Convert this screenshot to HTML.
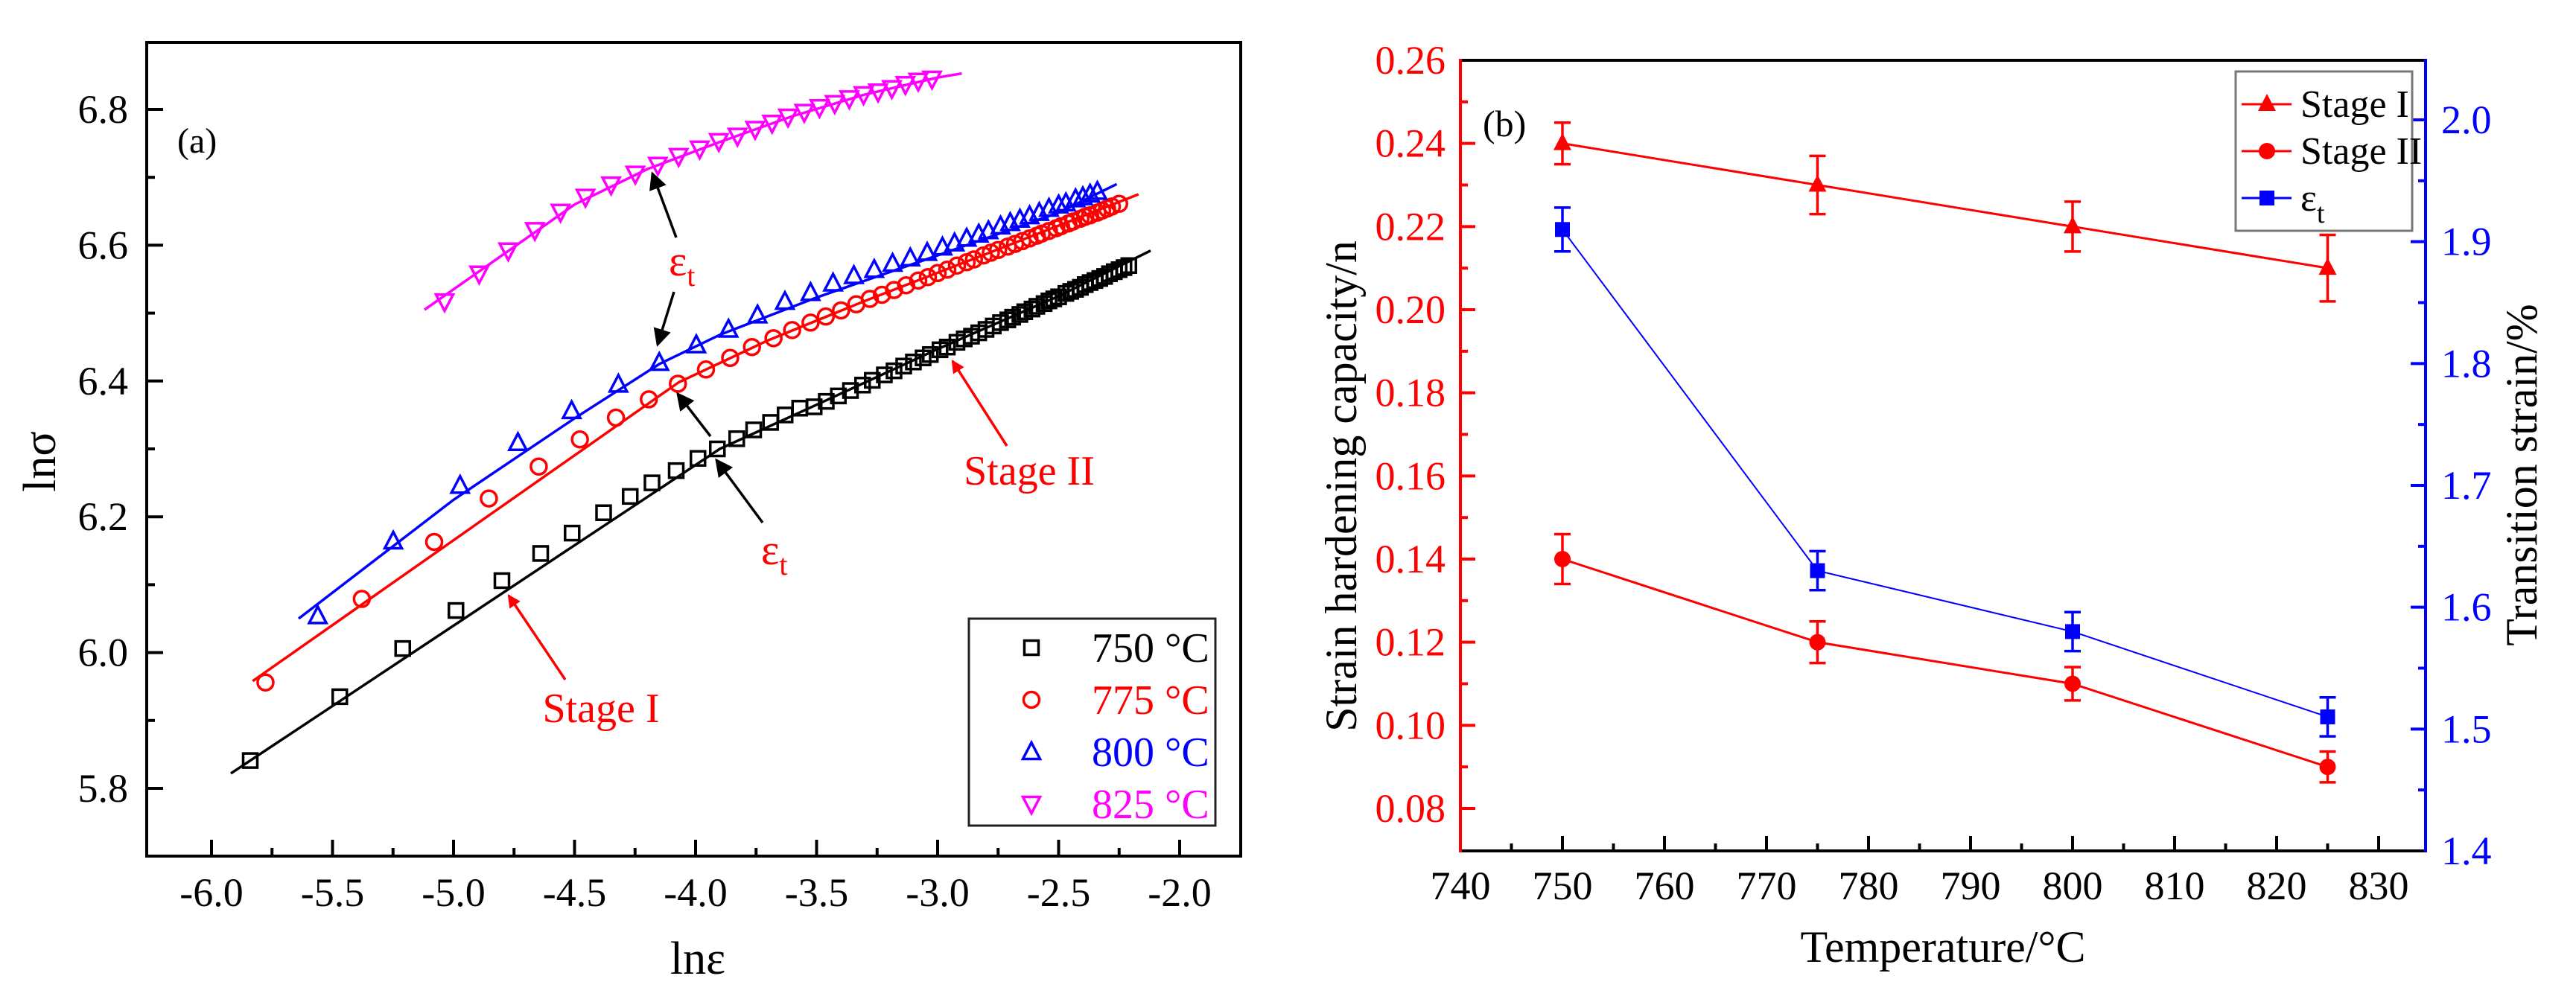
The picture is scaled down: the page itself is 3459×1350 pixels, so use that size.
<!DOCTYPE html>
<html><head><meta charset="utf-8"><style>
html,body{margin:0;padding:0;background:#fff;}
svg{display:block;}
svg text{font-family:"Liberation Serif","DejaVu Serif",serif !important;}
</style></head><body>
<svg id="fig" width="3459" height="1350" viewBox="0 0 3459 1350" font-family="Liberation Serif, serif"></svg>
<script>
// ---------- Panel (a) data ----------
const aXTicks = [-6.0,-5.5,-5.0,-4.5,-4.0,-3.5,-3.0,-2.5,-2.0];
const aXTickLabels = ["-6.0","-5.5","-5.0","-4.5","-4.0","-3.5","-3.0","-2.5","-2.0"];
const aYTicks = [5.8,6.0,6.2,6.4,6.6,6.8];
const aYTickLabels = ["5.8","6.0","6.2","6.4","6.6","6.8"];
const s750x = [-5.84,-5.47,-5.21,-4.99,-4.80,-4.64,-4.51,-4.38,-4.27,-4.18,-4.08,-3.99,-3.91,-3.83,-3.76,-3.69,-3.63,-3.57,-3.51,-3.46,-3.41,-3.36,-3.31,-3.27,-3.22,-3.18,-3.14,-3.10,-3.06,-3.03,-2.99,-2.96,-2.92,-2.89,-2.86,-2.83,-2.80,-2.77,-2.74,-2.71,-2.69,-2.66,-2.64,-2.61,-2.59,-2.56,-2.54,-2.52,-2.50,-2.47,-2.45,-2.43,-2.41,-2.39,-2.37,-2.35,-2.33,-2.31,-2.29,-2.27,-2.25,-2.23,-2.21];
const s750y = [5.841,5.935,6.006,6.062,6.106,6.146,6.176,6.206,6.230,6.250,6.268,6.286,6.300,6.315,6.328,6.339,6.350,6.360,6.362,6.370,6.378,6.386,6.394,6.401,6.409,6.415,6.422,6.428,6.434,6.439,6.446,6.450,6.457,6.462,6.466,6.471,6.476,6.481,6.486,6.490,6.494,6.498,6.502,6.506,6.510,6.514,6.518,6.521,6.524,6.529,6.532,6.535,6.538,6.542,6.545,6.548,6.551,6.554,6.558,6.561,6.564,6.567,6.570];
const s775x = [-5.777,-5.379,-5.080,-4.854,-4.648,-4.478,-4.329,-4.193,-4.073,-3.957,-3.857,-3.767,-3.678,-3.601,-3.525,-3.462,-3.399,-3.336,-3.28,-3.23,-3.18,-3.13,-3.08,-3.04,-3.00,-2.96,-2.92,-2.88,-2.85,-2.81,-2.78,-2.75,-2.71,-2.68,-2.65,-2.62,-2.59,-2.57,-2.54,-2.51,-2.49,-2.46,-2.44,-2.41,-2.39,-2.37,-2.34,-2.32,-2.30,-2.28,-2.25];
const s775y = [5.956,6.079,6.163,6.227,6.274,6.314,6.346,6.373,6.396,6.417,6.434,6.450,6.463,6.475,6.486,6.495,6.504,6.513,6.521,6.527,6.534,6.541,6.548,6.553,6.559,6.564,6.570,6.575,6.579,6.585,6.589,6.593,6.598,6.602,6.606,6.610,6.614,6.617,6.621,6.625,6.628,6.632,6.635,6.639,6.642,6.644,6.648,6.651,6.654,6.657,6.661];
const s800x = [-5.561,-5.249,-4.973,-4.734,-4.512,-4.319,-4.150,-3.997,-3.864,-3.744,-3.631,-3.525,-3.432,-3.346,-3.262,-3.186,-3.113,-3.043,-2.98,-2.93,-2.88,-2.83,-2.79,-2.74,-2.70,-2.66,-2.62,-2.58,-2.54,-2.50,-2.47,-2.43,-2.40,-2.37,-2.34];
const s800y = [6.054,6.164,6.246,6.309,6.356,6.395,6.427,6.453,6.476,6.497,6.517,6.530,6.544,6.555,6.564,6.573,6.581,6.589,6.597,6.603,6.610,6.616,6.621,6.628,6.633,6.638,6.643,6.648,6.654,6.659,6.662,6.668,6.671,6.675,6.679];
const s825x = [-5.037,-4.894,-4.774,-4.664,-4.558,-4.455,-4.349,-4.249,-4.156,-4.070,-3.983,-3.904,-3.827,-3.754,-3.684,-3.618,-3.551,-3.488,-3.425,-3.365,-3.306,-3.246,-3.189,-3.133,-3.080,-3.023];
const s825y = [6.517,6.558,6.592,6.622,6.649,6.671,6.689,6.705,6.718,6.731,6.742,6.753,6.761,6.771,6.780,6.789,6.796,6.803,6.809,6.816,6.822,6.826,6.831,6.837,6.842,6.845];
const fit750x = [-5.92,-3.9,-3.5,-3.0,-2.5,-2.12];
const fit750y = [5.822,6.30,6.365,6.447,6.525,6.592];
const fit775x = [-5.83,-4.07,-3.7,-3.3,-2.8,-2.17];
const fit775y = [5.958,6.398,6.46,6.518,6.587,6.675];
const fit800x = [-5.64,-5.0,-4.5,-4.15,-3.9,-3.5,-3.0,-2.5,-2.26];
const fit800y = [6.05,6.225,6.345,6.425,6.468,6.523,6.585,6.648,6.690];
const fit825x = [-5.12,-4.8,-4.5,-4.2,-3.9,-3.6,-3.3,-3.0,-2.9];
const fit825y = [6.505,6.585,6.66,6.712,6.752,6.79,6.822,6.847,6.853];

// ---------- Panel (b) data ----------
const bXTicks = [740,750,760,770,780,790,800,810,820,830];
const bXTickLabels = ["740","750","760","770","780","790","800","810","820","830"];
const bYLTicks = [0.08,0.10,0.12,0.14,0.16,0.18,0.20,0.22,0.24,0.26];
const bYLTickLabels = ["0.08","0.10","0.12","0.14","0.16","0.18","0.20","0.22","0.24","0.26"];
const bYRTicks = [1.4,1.5,1.6,1.7,1.8,1.9,2.0];
const bYRTickLabels = ["1.4","1.5","1.6","1.7","1.8","1.9","2.0"];
const temps = [750,775,800,825];
const stage1 = [0.240,0.230,0.220,0.210];
const stage1Err = [0.005,0.007,0.006,0.008];
const stage2 = [0.140,0.120,0.110,0.090];
const stage2Err = [0.006,0.005,0.004,0.0037];
const epsT = [1.91,1.63,1.58,1.51];
const epsTErr = [0.018,0.016,0.016,0.016];

const NS = "http://www.w3.org/2000/svg";
const svg = document.getElementById('fig');
const FONT = "'Liberation Serif', 'DejaVu Serif', serif";
function mk(tag, attrs, parent){
  const e = document.createElementNS(NS, tag);
  for (const k in attrs) e.setAttribute(k, attrs[k]);
  (parent||svg).appendChild(e);
  return e;
}
function txt(s, attrs, parent){ attrs['font-family'] = FONT; const t = mk('text', attrs, parent); t.textContent = s; return t; }
function lin(d0,d1,r0,r1){ return v => r0 + (v-d0)/(d1-d0)*(r1-r0); }

// ===== Panel (a) =====
const A = {L:197,R:1666,T:57,B:1150};
const ax = lin(-6.0,-2.0,284,1584);
const ay = lin(5.8,6.8,1059,147);
const gA = mk('g',{});



aXTicks.forEach((v,i)=>{
  const x = ax(v);
  const t = mk('line',{x1:x,y1:A.B,x2:x,y2:A.B-22,stroke:'#000','stroke-width':4},gA);
  
  
  if(i<aXTicks.length-1){
    const xm = ax(v+0.25);
    const m = mk('line',{x1:xm,y1:A.B,x2:xm,y2:A.B-11,stroke:'#000','stroke-width':4},gA);
    
    
  }
  const l = txt(aXTickLabels[i],{x:x,y:1217,'font-size':54,'text-anchor':'middle',fill:'#000'},gA);
  
  
});
[5.7].concat(aYTicks).forEach(v=>{
  const y = ay(v+0.1);
  if (y > A.T+2 && y < A.B-2){
    const m = mk('line',{x1:A.L,y1:y,x2:A.L+11,y2:y,stroke:'#000','stroke-width':4},gA);
    
    
  }
});
aYTicks.forEach((v,i)=>{
  const y = ay(v);
  const t = mk('line',{x1:A.L,y1:y,x2:A.L+22,y2:y,stroke:'#000','stroke-width':4},gA);
  
  
  const l = txt(aYTickLabels[i],{x:172,y:y+18,'font-size':54,'text-anchor':'end',fill:'#000'},gA);
  
  
});
const frameA = mk('rect',{x:A.L,y:A.T,width:A.R-A.L,height:A.B-A.T,fill:'none',stroke:'#000','stroke-width':4},gA);



const xtA = txt('lnε',{x:937,y:1308,'font-size':62,'text-anchor':'middle'},gA);


const ytA = txt('lnσ',{x:0,y:0,'font-size':62,'text-anchor':'middle',transform:'translate(74,620) rotate(-90)'},gA);


const labA = txt('(a)',{x:238,y:205,'font-size':48},gA);



function polyA(xs,ys,color,w){
  return mk('polyline',{points:xs.map((x,i)=>ax(x)+','+ay(ys[i])).join(' '),fill:'none',stroke:color,'stroke-width':w,'stroke-linejoin':'round'},gA);
}
function marker(shape,x,y,color,parent,filled){
  const s = 9.5, f = filled?color:'none';
  let e;
  if(shape==='sq') e = mk('rect',{x:x-s,y:y-s,width:2*s,height:2*s,fill:f,stroke:color,'stroke-width':3.5},parent);
  else if(shape==='ci') e = mk('circle',{cx:x,cy:y,r:s+1,fill:f,stroke:color,'stroke-width':3.5},parent);
  else if(shape==='up') e = mk('polygon',{points:`${x},${y-s-3} ${x+s+2},${y+s} ${x-s-2},${y+s}`,fill:f,stroke:color,'stroke-width':3.5},parent);
  else e = mk('polygon',{points:`${x},${y+s+3} ${x+s+2},${y-s} ${x-s-2},${y-s}`,fill:f,stroke:color,'stroke-width':3.5},parent);
  return e;
}
const seriesA = [
  {xs:s750x,ys:s750y,fx:fit750x,fy:fit750y,c:'#000',sh:'sq',n:'750'},
  {xs:s775x,ys:s775y,fx:fit775x,fy:fit775y,c:'#ff0000',sh:'ci',n:'775'},
  {xs:s800x,ys:s800y,fx:fit800x,fy:fit800y,c:'#0000ff',sh:'up',n:'800'},
  {xs:s825x,ys:s825y,fx:fit825x,fy:fit825y,c:'#ff00ff',sh:'dn',n:'825'}
];
seriesA.forEach(s=>{
  const ln = polyA(s.fx,s.fy,s.c,3.5);
  
  
  const g = mk('g',{},gA);
  
  
  s.xs.forEach((x,i)=>{
    const m = marker(s.sh,ax(x),ay(s.ys[i]),s.c,g,false);
    
    
  });
});

// annotations
const defs = mk('defs',{});
const mkB = mk('marker',{id:'ahB',markerWidth:24,markerHeight:24,refX:7,refY:4,orient:'auto',markerUnits:'userSpaceOnUse',viewBox:'0 0 8 8'},defs);
mk('path',{d:'M0,0 L8,4 L0,8 Z',fill:'#000'},mkB);
const mkR = mk('marker',{id:'ahR',markerWidth:5,markerHeight:5,refX:7,refY:4,orient:'auto',viewBox:'0 0 8 8'},defs);
mk('path',{d:'M0,0 L8,4 L0,8 Z',fill:'#ff0000'},mkR);
function arrow(x1,y1,x2,y2,c,name){
  const a = mk('line',{x1,y1,x2,y2,stroke:c,'stroke-width':3.5,'marker-end':c==='#000'?'url(#ahB)':'url(#ahR)'},gA);
  
  
}
arrow(908,319,876,233,'#000','arrow-et-825');
arrow(905,392,883,463,'#000','arrow-et-800');
arrow(954,586,910,529,'#000','arrow-et-775');
arrow(1024,702,962,618,'#000','arrow-et-750');
arrow(759,913,683,800,'#ff0000','arrow-stage-1');
arrow(1352,599,1279,485,'#ff0000','arrow-stage-2');
function epsLabel(x,y,name){
  const t = mk('text',{x:x,y:y,'font-size':58,fill:'#ff0000','font-family':FONT},gA);
  t.appendChild(document.createTextNode('ε'));
  const sub = mk('tspan',{'font-size':40,dy:14},t);
  sub.textContent = 't';
  
  
}
epsLabel(898,370,'et-label-upper');
epsLabel(1022,758,'et-label-lower');
const st1 = txt('Stage I',{x:807,y:970,'font-size':56,fill:'#ff0000','text-anchor':'middle'},gA);


const st2 = txt('Stage II',{x:1382,y:651,'font-size':56,fill:'#ff0000','text-anchor':'middle'},gA);



// legend a
const legA = mk('g',{},gA);


mk('rect',{x:1301,y:831,width:331,height:278,fill:'#fff',stroke:'#222','stroke-width':3},legA);
const legItems = [['sq','#000','750 °C'],['ci','#ff0000','775 °C'],['up','#0000ff','800 °C'],['dn','#ff00ff','825 °C']];
legItems.forEach((it,i)=>{
  const y = 870 + i*70;
  const e = mk('g',{},legA);
  
  
  marker(it[0],1385,y,it[1],e,false);
  txt(it[2],{x:1466,y:y+19,'font-size':56,fill:it[1]},e);
});

// ===== Panel (b) =====
const B = {L:1961,R:3257,T:81,B:1143};
const bx = lin(740,750,1961,2098);
const byL = lin(0.08,0.26,1086,81);
const byR = lin(1.4,2.0,1143,161);
const gB = mk('g',{});



bXTicks.forEach((v,i)=>{
  const x = bx(v);
  const t = mk('line',{x1:x,y1:B.B,x2:x,y2:B.B-20,stroke:'#000','stroke-width':4},gB);
  
  
  const xm = bx(v+5);
  if (xm < B.R-3){
    const m = mk('line',{x1:xm,y1:B.B,x2:xm,y2:B.B-10,stroke:'#000','stroke-width':4},gB);
    
    
  }
  const l = txt(bXTickLabels[i],{x:x,y:1208,'font-size':54,'text-anchor':'middle',fill:'#000'},gB);
  
  
});
bYLTicks.forEach((v,i)=>{
  const y = byL(v);
  const t = mk('line',{x1:B.L,y1:y,x2:B.L+20,y2:y,stroke:'#ff0000','stroke-width':4},gB);
  
  
  const ym = byL(v-0.01);
  if (ym < B.B-3){
    const m = mk('line',{x1:B.L,y1:ym,x2:B.L+10,y2:ym,stroke:'#ff0000','stroke-width':4},gB);
    
    
  }
  const l = txt(bYLTickLabels[i],{x:1941,y:y+18,'font-size':54,'text-anchor':'end',fill:'#ff0000'},gB);
  
  
});
bYRTicks.forEach((v,i)=>{
  const y = byR(v);
  const t = mk('line',{x1:B.R,y1:y,x2:B.R-20,y2:y,stroke:'#0000ff','stroke-width':4},gB);
  
  
  const ym = byR(v+0.05);
  if (ym > B.T+3){
    const m = mk('line',{x1:B.R,y1:ym,x2:B.R-10,y2:ym,stroke:'#0000ff','stroke-width':4},gB);
    
    
  }
  const l = txt(bYRTickLabels[i],{x:3278,y:y+18,'font-size':54,'text-anchor':'start',fill:'#0000ff'},gB);
  
  
});
const topB = mk('line',{x1:B.L,y1:B.T,x2:B.R,y2:B.T,stroke:'#000','stroke-width':4},gB);


const botB = mk('line',{x1:B.L,y1:B.B,x2:B.R,y2:B.B,stroke:'#000','stroke-width':4},gB);


const leftB = mk('line',{x1:B.L,y1:B.T-2,x2:B.L,y2:B.B+2,stroke:'#ff0000','stroke-width':4},gB);


const rightB = mk('line',{x1:B.R,y1:B.T-2,x2:B.R,y2:B.B+2,stroke:'#0000ff','stroke-width':4},gB);



const xtB = txt('Temperature/°C',{x:2609,y:1292,'font-size':60,'text-anchor':'middle'},gB);


const ytB = txt('Strain hardening capacity/n',{x:0,y:0,'font-size':60,'text-anchor':'middle',transform:'translate(1821,653) rotate(-90)'},gB);


const yrB = txt('Transition strain/%',{x:0,y:0,'font-size':60,'text-anchor':'middle',transform:'translate(3406,638) rotate(-90)'},gB);


const labB = txt('(b)',{x:1991,y:183,'font-size':50},gB);



function seriesB(vals,errs,yfn,color,w,shape,name){
  const g = mk('g',{},gB);
  
  
  mk('polyline',{points:temps.map((t,i)=>bx(t)+','+yfn(vals[i])).join(' '),fill:'none',stroke:color,'stroke-width':w},g);
  temps.forEach((t,i)=>{
    const x = bx(t), y0 = yfn(vals[i]+errs[i]), y1 = yfn(vals[i]-errs[i]);
    const eb = mk('path',{d:`M${x},${y0} L${x},${y1} M${x-11},${y0} L${x+11},${y0} M${x-11},${y1} L${x+11},${y1}`,stroke:color,'stroke-width':3.5,fill:'none'},g);
    
    
    const y = yfn(vals[i]);
    let m;
    if(shape==='tri') m = mk('polygon',{points:`${x},${y-14} ${x+12},${y+9} ${x-12},${y+9}`,fill:color},g);
    else if(shape==='ci') m = mk('circle',{cx:x,cy:y,r:11,fill:color},g);
    else m = mk('rect',{x:x-10,y:y-10,width:20,height:20,fill:color},g);
    
    
  });
}
seriesB(epsT,epsTErr,byR,'#0000ff',2,'sq','transition-strain');
seriesB(stage1,stage1Err,byL,'#ff0000',3,'tri','stage-1');
seriesB(stage2,stage2Err,byL,'#ff0000',3,'ci','stage-2');

// legend b
const legB = mk('g',{},gB);


mk('rect',{x:3002,y:96,width:237,height:214,fill:'#fff',stroke:'#777','stroke-width':3},legB);
const lb = [['tri','#ff0000','Stage I'],['ci','#ff0000','Stage II'],['sq','#0000ff','ε']];
lb.forEach((it,i)=>{
  const y = 140 + i*63;
  const e = mk('g',{},legB);
  
  
  mk('line',{x1:3010,y1:y,x2:3077,y2:y,stroke:it[1],'stroke-width':3},e);
  const x = 3044;
  if(it[0]==='tri') mk('polygon',{points:`${x},${y-14} ${x+12},${y+9} ${x-12},${y+9}`,fill:it[1]},e);
  else if(it[0]==='ci') mk('circle',{cx:x,cy:y,r:11,fill:it[1]},e);
  else mk('rect',{x:x-10,y:y-10,width:20,height:20,fill:it[1]},e);
  const t = txt(it[2],{x:3089,y:y+17,'font-size':52,fill:'#000'},e);
  if(it[0]==='sq'){ const s = mk('tspan',{'font-size':38,dy:16},t); s.textContent='t'; }
});
</script>
</body></html>
